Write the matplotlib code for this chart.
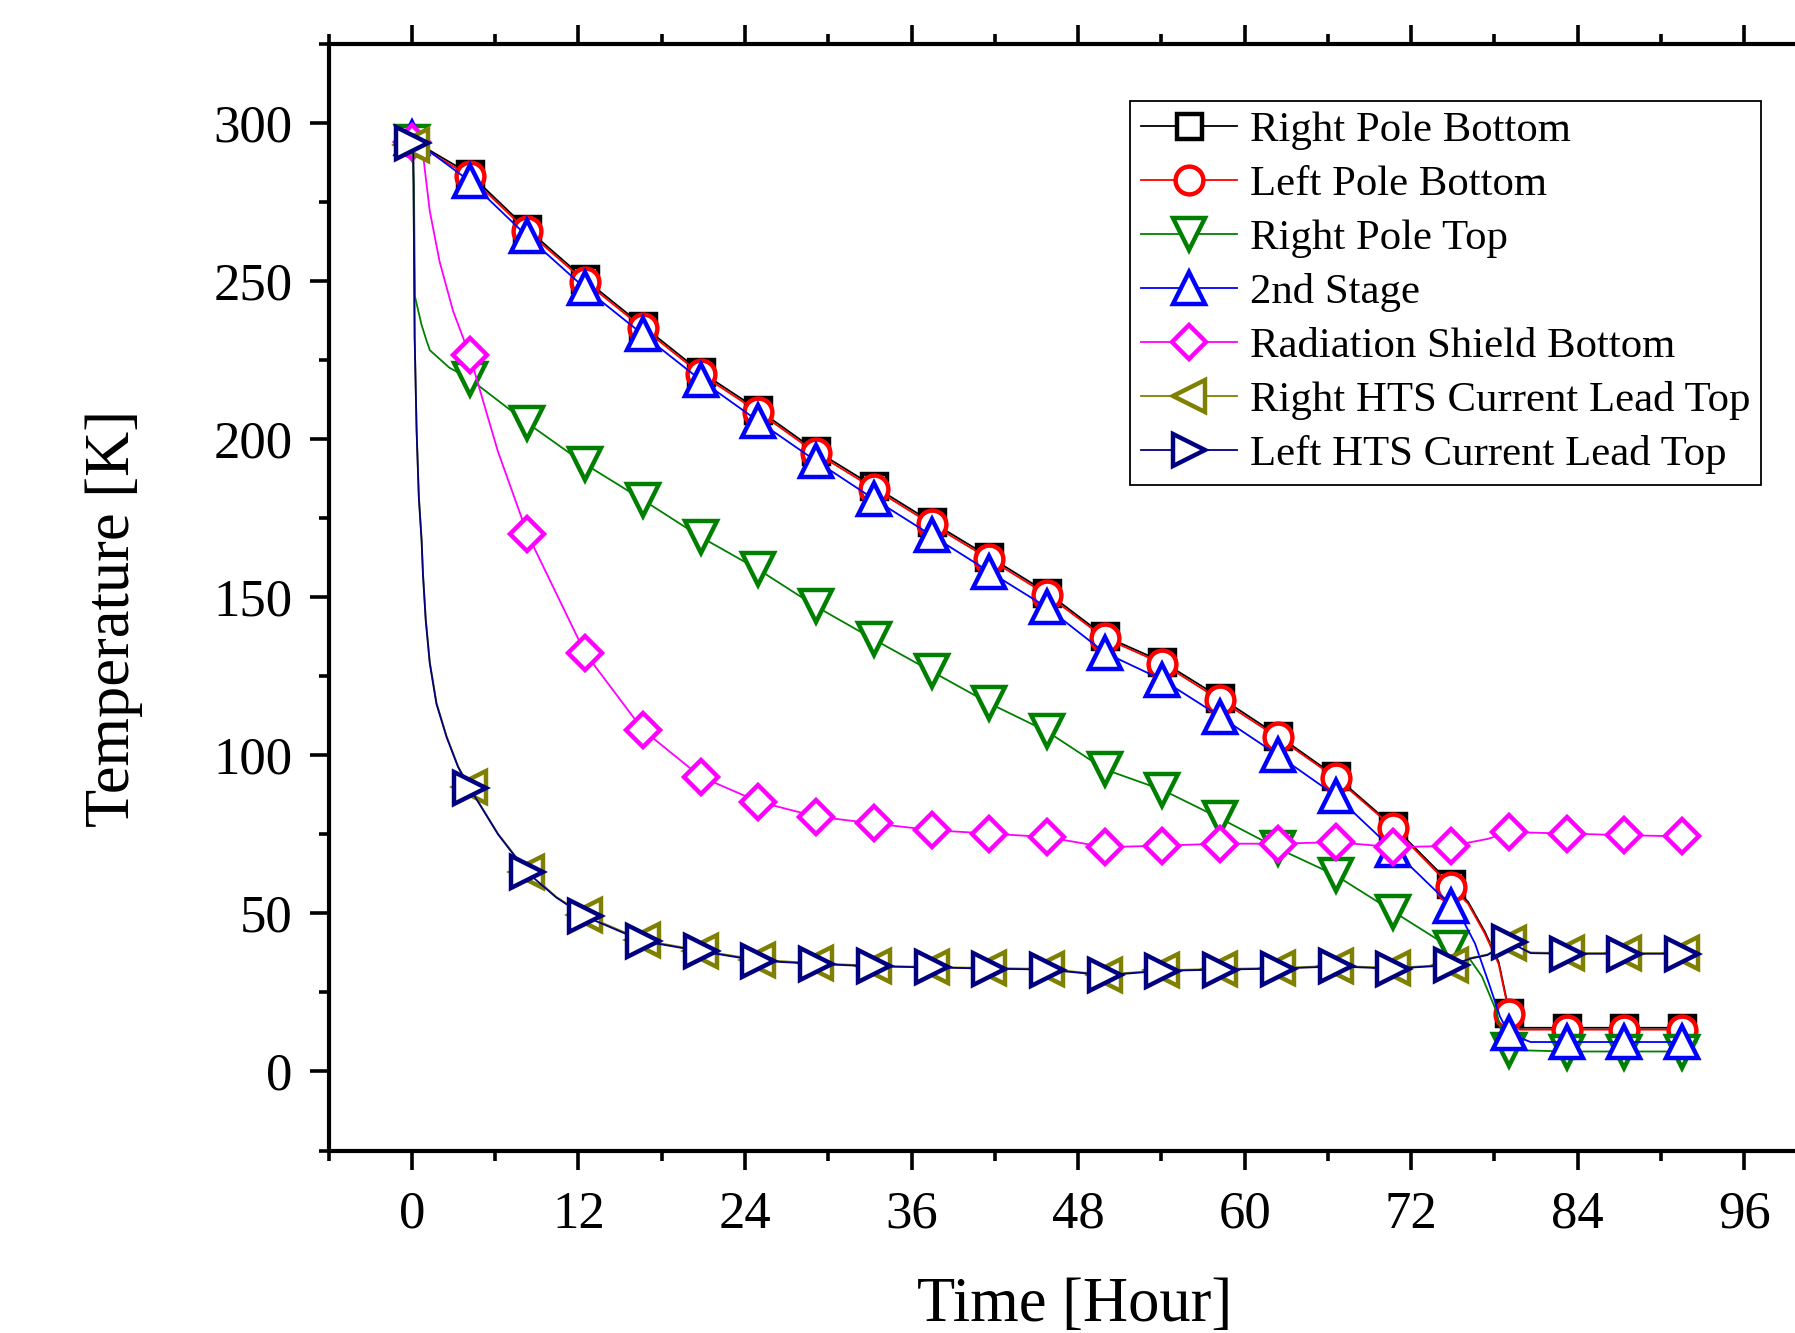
import matplotlib
matplotlib.use("Agg")
import matplotlib.pyplot as plt
import numpy as np
from matplotlib.ticker import MultipleLocator

plt.rcParams['font.family'] = ['Liberation Serif', 'DejaVu Serif']

# ---------------- data ----------------
t_mark = [0.0, 4.16, 8.32, 12.48, 16.64, 20.8, 24.96, 29.12, 33.28, 37.44, 41.6,
          45.76, 49.92, 54.08, 58.24, 62.4, 66.56, 70.72, 74.88, 79.04, 83.2, 87.36, 91.52]

right_pole_bottom = [294.5, 283.8, 266.3, 250.4, 235.7, 221.2, 209.2, 196.2, 185.0, 173.7, 162.7,
                     151.4, 137.6, 129.5, 118.2, 106.2, 93.3, 77.5, 59.2, 18.5, 13.8, 13.8, 13.8]
right_pole_bottom_extra_t = [76.1, 77.3, 78.3, 78.8, 79.8]
right_pole_bottom_extra_T = [53.6, 44.2, 34.6, 24.2, 13.8]

left_pole_bottom = [294.0, 283.0, 265.6, 249.7, 235.0, 220.5, 208.5, 195.5, 184.3, 173.0, 162.0,
                    150.7, 137.0, 128.9, 117.4, 105.6, 92.8, 77.0, 58.4, 18.2, 13.2, 13.2, 13.2]
left_pole_bottom_extra_t = [76.1, 77.3, 78.3, 78.8, 79.8]
left_pole_bottom_extra_T = [53.0, 43.6, 34.0, 23.6, 13.2]

right_pole_top = [294.0, 219.0, 205.0, 192.0, 180.7, 169.0, 158.7, 147.0, 136.6, 126.5, 116.4,
                  107.5, 95.5, 89.0, 80.0, 70.5, 62.0, 50.5, 39.0, 6.8, 6.3, 6.3, 6.3]
right_pole_top_extra_t = [0.15, 0.22, 0.7, 1.06, 1.3, 2.7, 75.9, 77.1, 78.1, 78.7]
right_pole_top_extra_T = [280.0, 245.0, 236.0, 231.0, 228.0, 222.5, 37.5, 30.0, 19.4, 9.0]

second_stage = [295.0, 281.5, 264.0, 247.6, 233.0, 218.6, 205.6, 193.0, 181.0, 169.5, 158.0,
                146.7, 132.4, 123.8, 112.2, 100.0, 87.2, 70.0, 52.4, 12.0, 9.3, 9.3, 9.3]
second_stage_extra_t = [75.6, 76.6, 77.6, 78.4, 80.6]
second_stage_extra_T = [48.9, 40.4, 27.8, 17.3, 9.3]

radiation_shield_bottom = [294.0, 226.5, 170.0, 132.3, 108.0, 93.2, 85.3, 80.6, 78.4, 76.3, 75.2,
                           74.1, 70.9, 71.4, 72.0, 72.0, 72.5, 70.9, 71.3, 75.7, 75.2, 74.7, 74.3]
radiation_shield_bottom_extra_t = [0.34, 0.8, 1.29, 2.0, 2.97, 6.2, 76.3, 77.5]
radiation_shield_bottom_extra_T = [293.0, 290.0, 272.0, 256.0, 240.4, 196.0, 72.5, 73.5]

right_hts_lead_top = [293.0, 89.8, 63.2, 49.3, 41.5, 38.2, 35.3, 34.2, 33.4, 33.0, 32.7,
                      32.4, 30.6, 32.0, 32.4, 32.7, 33.4, 32.7, 33.8, 40.6, 37.4, 37.4, 37.4]
right_hts_lead_top_extra_t = [0.1, 0.2, 0.34, 0.5, 0.7, 0.8, 1.0, 1.29, 1.77, 2.5, 3.33, 6.2, 10.4,
                              76.3, 77.5, 80.6]
right_hts_lead_top_extra_T = [291.0, 232.5, 203.0, 182.0, 168.3, 157.5, 143.0, 129.5, 116.6, 106.0,
                              96.5, 75.2, 55.2, 35.9, 37.0, 37.6]

left_hts_lead_top = [293.5, 89.6, 62.9, 49.0, 41.2, 38.0, 35.0, 34.0, 33.2, 32.9, 32.5,
                     32.2, 30.4, 31.8, 32.2, 32.5, 33.2, 32.5, 33.6, 41.0, 37.2, 37.2, 37.2]
left_hts_lead_top_extra_t = [0.1, 0.2, 0.34, 0.5, 0.7, 0.8, 1.0, 1.29, 1.77, 2.5, 3.33, 6.2, 10.4,
                             76.3, 77.5, 80.6]
left_hts_lead_top_extra_T = [292.0, 232.0, 202.5, 181.5, 167.8, 157.0, 142.5, 129.0, 116.2, 105.7,
                             96.2, 75.0, 55.0, 35.7, 36.8, 37.4]

labels = ["Right Pole Bottom", "Left Pole Bottom", "Right Pole Top", "2nd Stage",
          "Radiation Shield Bottom", "Right HTS Current Lead Top", "Left HTS Current Lead Top"]
colors = ["#000000", "#FF0000", "#008000", "#0000FF", "#FF00FF", "#808000", "#000080"]
markers = ["s", "o", "v", "^", "D", "<", ">"]
msizes = [18, 20, 23, 23, 17, 23, 23]

x_ticks = [0, 12, 24, 36, 48, 60, 72, 84, 96]
y_ticks = [0, 50, 100, 150, 200, 250, 300]

series = [
    (right_pole_bottom, right_pole_bottom_extra_t, right_pole_bottom_extra_T),
    (left_pole_bottom, left_pole_bottom_extra_t, left_pole_bottom_extra_T),
    (right_pole_top, right_pole_top_extra_t, right_pole_top_extra_T),
    (second_stage, second_stage_extra_t, second_stage_extra_T),
    (radiation_shield_bottom, radiation_shield_bottom_extra_t, radiation_shield_bottom_extra_T),
    (right_hts_lead_top, right_hts_lead_top_extra_t, right_hts_lead_top_extra_T),
    (left_hts_lead_top, left_hts_lead_top_extra_t, left_hts_lead_top_extra_T),
]

# ---------------- figure ----------------
W, H = 1795, 1333
fig = plt.figure(figsize=(W / 100, H / 100), dpi=100)
ax = fig.add_axes([328.6 / W, 182.5 / H, 1499 / W, 1107 / H])

for (vals, et, eT), lab, c, m, ms in zip(series, labels, colors, markers, msizes):
    t_all = np.array(list(t_mark) + list(et))
    T_all = np.array(list(vals) + list(eT))
    is_mark = np.array([True] * len(t_mark) + [False] * len(et))
    order = np.argsort(t_all, kind="stable")
    t_all, T_all, is_mark = t_all[order], T_all[order], is_mark[order]
    mk_idx = list(np.nonzero(is_mark)[0])
    ax.plot(t_all, T_all, color=c, lw=1.3, marker=m, markevery=mk_idx, ms=ms,
            mfc="white", mec=c, mew=3.2, label=lab)

ax.set_xlim(-6, 102)
ax.set_ylim(-25, 325)
ax.set_xticks(x_ticks)
ax.set_yticks(y_ticks)
ax.xaxis.set_minor_locator(MultipleLocator(6))
ax.yaxis.set_minor_locator(MultipleLocator(25))

for s in ax.spines.values():
    s.set_linewidth(3)
ax.tick_params(which="both", direction="out", top=True, right=True, width=2.6)
ax.tick_params(which="major", length=14)
ax.tick_params(which="minor", length=7)
ax.tick_params(axis="x", which="major", labelsize=38, pad=15)
ax.tick_params(axis="y", which="major", labelsize=38, pad=12)

ax.set_xlabel("Time [Hour]", fontsize=45)
ax.set_ylabel("Temperature [K]", fontsize=45)
ax.xaxis.set_label_coords(0.498, -0.114)
ax.xaxis.label.set_va("top")
ax.yaxis.set_label_coords(-0.124, 0.481)

leg = ax.legend(loc="upper right", bbox_to_anchor=(1760.7 / W, 1 - 100.7 / H),
                bbox_transform=fig.transFigure, borderaxespad=0, fontsize=30.8,
                frameon=True, fancybox=False, edgecolor="black", framealpha=1,
                borderpad=0.25, labelspacing=0.35, handlelength=2.25, handletextpad=0.3,
                numpoints=1)
leg.get_frame().set_linewidth(1.3)

fig.savefig("out.png", dpi=100)
